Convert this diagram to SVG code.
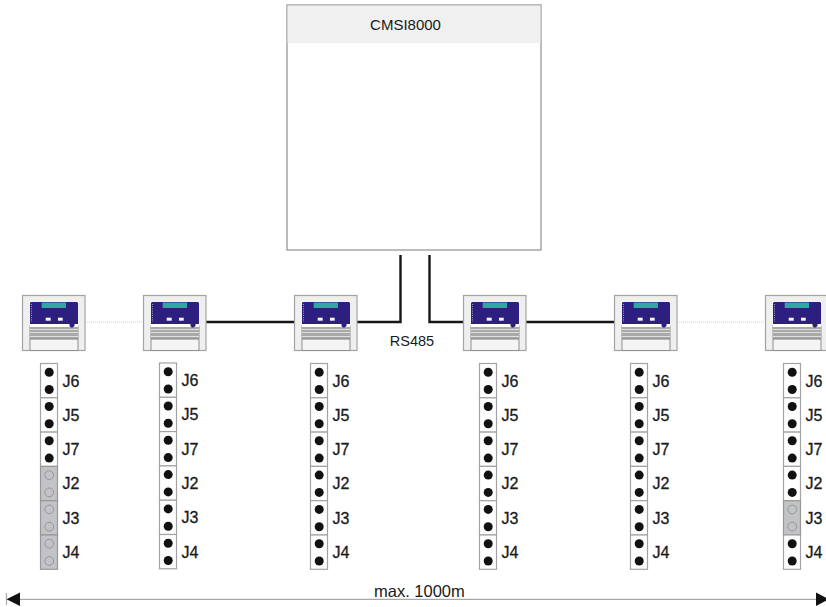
<svg xmlns="http://www.w3.org/2000/svg" width="826" height="607" viewBox="0 0 826 607">
<style>
text{font-family:"Liberation Sans",Arial,sans-serif;fill:#1a1a1a}
.t{font-size:15px}
.j{font-size:16px;stroke:#1a1a1a;stroke-width:.3px}
.on{fill:#fff;stroke:#a3a3a3;stroke-width:1.2}
.off{fill:#c2c3c6;stroke:#989898;stroke-width:1.2}
.pin{fill:#111}
.hole{fill:none;stroke:#8c8c8c;stroke-width:.8}
.bus{fill:none;stroke:#161616;stroke-width:2.4}
.dot{fill:none;stroke:#cfcfcf;stroke-width:1;stroke-dasharray:1 1}
.dim{stroke:#a8a8a8;stroke-width:1.2;fill:none}
</style>
<defs>
<g id="panel">
<rect x=".5" y=".5" width="62.5" height="55" fill="#efefef" stroke="#a3a3a3" stroke-width="1.2"/>
<rect x="8" y="31" width="48" height="24.5" fill="#f4f4f4" stroke="#8f8f8f"/>
<rect x="8" y="32" width="48" height="12" fill="#a9a9a9"/>
<path d="M8 34.500H56M8 37.500H56M8 41.500H56" stroke="#e4e4e4" stroke-width=".9"/>
<path d="M8 44H56" stroke="#7f7f7f" stroke-width="1"/>
<rect x="8" y="29" width="48" height="3" fill="#fff"/>
<path d="M9 7H55L56 8V29H52.500V31L50.500 32.500H49L47.500 31V29H8V8Z" fill="#2d1f80"/>
<rect x="19.700" y="7.500" width="24.300" height="5.500" fill="#2fa8a3"/>
<rect x="23.700" y="22.700" width="5" height="3" fill="#f4f4f4"/>
<rect x="36" y="22.700" width="4.700" height="3" fill="#f4f4f4"/>
<path d="M9.500 9V27" stroke="#9c9ccc" stroke-width="1" stroke-dasharray="1 1.200"/>
</g>
<g id="on"><rect class="on" width="17" height="34.300"/><circle class="pin" cx="8.700" cy="8.700" r="4.500"/><circle class="pin" cx="8.700" cy="26" r="4.500"/></g>
<g id="off"><rect class="off" width="17" height="34.300"/><circle class="hole" cx="8.700" cy="8.700" r="4.400"/><circle class="hole" cx="8.700" cy="26" r="4.400"/></g>
</defs>

<g id="connectors">
<path class="dot" d="M85 322H143M677 322H765"/>
<path class="bus" d="M206 322H294M357 322H400.500V255M429.500 255V322H463M526 322H614"/>
<path class="dim" d="M6.500 593V605"/>
<path class="dim" d="M20 599.300H816" />
<path d="M20 592.500L6.500 599.300L20 606Z" fill="#111"/>
<path d="M816 592.500L829 599.300L816 606Z" fill="#111"/>
</g>

<g id="cmsi8000">
<rect x="287" y="5" width="254" height="245" fill="#fff" stroke="#8f8f8f" stroke-width="1.200"/>
<rect x="287.600" y="5.600" width="252.800" height="37.400" fill="#f0f0f0"/>
<text class="t" x="405.500" y="29.500" text-anchor="middle">CMSI8000</text>
</g>
<g id="rs485"><text x="412" y="345.700" text-anchor="middle" font-size="14.500">RS485</text></g>

<g id="module1"><use href="#panel" x="22" y="295"/></g>
<g id="module2"><use href="#panel" x="143" y="295"/></g>
<g id="module3"><use href="#panel" x="294" y="295"/></g>
<g id="module4"><use href="#panel" x="463" y="295"/></g>
<g id="module5"><use href="#panel" x="614" y="295"/></g>
<g id="module6"><use href="#panel" x="765" y="295"/></g>

<g id="jumpers1" transform="translate(40.500 363.500)">
<use href="#on"/><use href="#on" y="34.300"/><use href="#on" y="68.600"/><use href="#off" y="102.900"/><use href="#off" y="137.200"/><use href="#off" y="171.500"/>
<text class="j" x="22" y="23">J6</text><text class="j" x="22" y="57.300">J5</text><text class="j" x="22" y="91.600">J7</text><text class="j" x="22" y="125.900">J2</text><text class="j" x="22" y="160.200">J3</text><text class="j" x="22" y="194.500">J4</text>
</g>
<g id="jumpers2" transform="translate(159.500 363)">
<use href="#on"/><use href="#on" y="34.300"/><use href="#on" y="68.600"/><use href="#on" y="102.900"/><use href="#on" y="137.200"/><use href="#on" y="171.500"/>
<text class="j" x="22" y="23">J6</text><text class="j" x="22" y="57.300">J5</text><text class="j" x="22" y="91.600">J7</text><text class="j" x="22" y="125.900">J2</text><text class="j" x="22" y="160.200">J3</text><text class="j" x="22" y="194.500">J4</text>
</g>
<g id="jumpers3" transform="translate(310.500 363.500)">
<use href="#on"/><use href="#on" y="34.300"/><use href="#on" y="68.600"/><use href="#on" y="102.900"/><use href="#on" y="137.200"/><use href="#on" y="171.500"/>
<text class="j" x="22" y="23">J6</text><text class="j" x="22" y="57.300">J5</text><text class="j" x="22" y="91.600">J7</text><text class="j" x="22" y="125.900">J2</text><text class="j" x="22" y="160.200">J3</text><text class="j" x="22" y="194.500">J4</text>
</g>
<g id="jumpers4" transform="translate(479.500 363.500)">
<use href="#on"/><use href="#on" y="34.300"/><use href="#on" y="68.600"/><use href="#on" y="102.900"/><use href="#on" y="137.200"/><use href="#on" y="171.500"/>
<text class="j" x="22" y="23">J6</text><text class="j" x="22" y="57.300">J5</text><text class="j" x="22" y="91.600">J7</text><text class="j" x="22" y="125.900">J2</text><text class="j" x="22" y="160.200">J3</text><text class="j" x="22" y="194.500">J4</text>
</g>
<g id="jumpers5" transform="translate(630.500 363.500)">
<use href="#on"/><use href="#on" y="34.300"/><use href="#on" y="68.600"/><use href="#on" y="102.900"/><use href="#on" y="137.200"/><use href="#on" y="171.500"/>
<text class="j" x="22" y="23">J6</text><text class="j" x="22" y="57.300">J5</text><text class="j" x="22" y="91.600">J7</text><text class="j" x="22" y="125.900">J2</text><text class="j" x="22" y="160.200">J3</text><text class="j" x="22" y="194.500">J4</text>
</g>
<g id="jumpers6" transform="translate(783.500 363.500)">
<use href="#on"/><use href="#on" y="34.300"/><use href="#on" y="68.600"/><use href="#on" y="102.900"/><use href="#off" y="137.200"/><use href="#on" y="171.500"/>
<text class="j" x="22" y="23">J6</text><text class="j" x="22" y="57.300">J5</text><text class="j" x="22" y="91.600">J7</text><text class="j" x="22" y="125.900">J2</text><text class="j" x="22" y="160.200">J3</text><text class="j" x="22" y="194.500">J4</text>
</g>
<g id="span"><text x="374" y="597" font-size="16.500">max. 1000m</text></g>
</svg>
